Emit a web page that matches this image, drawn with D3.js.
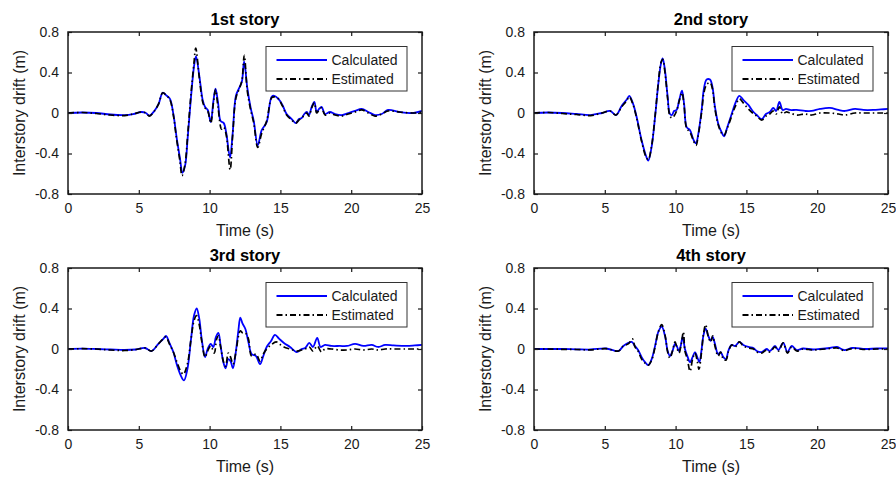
<!DOCTYPE html>
<html>
<head>
<meta charset="utf-8">
<script src="https://cdn.jsdelivr.net/npm/d3@7"></script>
<style>
  body { margin: 0; background: #fff; }
  svg { font-family: "Liberation Sans", Arial, sans-serif; }
</style>
</head>
<body>
<svg id="chart" width="896" height="480"></svg>
<script>
// ---- data: [time (s), drift (m)] ----
const xTicks = [0, 5, 10, 15, 20, 25];
const yTicks = [-0.8, -0.4, 0, 0.4, 0.8];
const yTickLabels = ["-0.8", "-0.4", "0", "0.4", "0.8"];
const titles = ["1st story", "2nd story", "3rd story", "4th story"];
const seriesNames = ["Calculated", "Estimated"];

const story1Calc = [[0,0],[1,0.005],[2,0],[3,-0.015],[4,-0.02],[4.6,-0.01],[5.2,0.01],[5.5,0],[5.75,-0.025],[6.1,0.02],[6.4,0.09],[6.69,0.2],[6.97,0.17],[7.2,0.14],[7.44,-0.01],[7.67,-0.24],[7.91,-0.45],[8.08,-0.59],[8.27,-0.52],[8.45,-0.25],[8.67,0.13],[8.9,0.46],[9.04,0.56],[9.28,0.36],[9.51,0.13],[9.68,0.06],[9.87,0.03],[10.08,-0.09],[10.27,0.12],[10.42,0.24],[10.6,0.1],[10.78,-0.08],[11.0,-0.1],[11.18,-0.2],[11.44,-0.44],[11.63,-0.2],[11.86,0.17],[12.1,0.25],[12.28,0.31],[12.44,0.51],[12.66,0.25],[12.9,0.05],[13.12,-0.08],[13.4,-0.32],[13.68,-0.17],[14.03,-0.09],[14.38,0.16],[14.57,0.17],[14.86,0.14],[15.14,0.08],[15.44,-0.01],[15.8,-0.06],[16.08,-0.1],[16.31,-0.06],[16.5,-0.05],[16.69,-0.01],[16.86,0.01],[17.02,-0.02],[17.21,0.06],[17.4,0.11],[17.56,0.01],[17.73,0.04],[17.91,0.06],[18.15,-0.01],[18.5,0.01],[18.86,-0.01],[19.33,-0.02],[19.8,0],[20.27,0.02],[20.74,0.04],[21.21,0.01],[21.68,-0.02],[22.15,-0.01],[22.6,0.03],[23.4,0.01],[24.4,0],[25,0.02]];
const story1Est = [[0,0],[1,0.005],[2,-0.005],[3,-0.02],[4,-0.025],[4.6,-0.01],[5.2,0.01],[5.5,0],[5.75,-0.03],[6.1,0.02],[6.4,0.09],[6.69,0.2],[6.97,0.17],[7.2,0.13],[7.44,-0.02],[7.67,-0.26],[7.91,-0.48],[8.05,-0.62],[8.27,-0.5],[8.45,-0.22],[8.67,0.16],[8.9,0.5],[9.02,0.64],[9.28,0.34],[9.51,0.11],[9.68,0.05],[9.87,0.02],[10.08,-0.1],[10.27,0.1],[10.42,0.23],[10.6,0.05],[10.85,-0.16],[11.0,-0.14],[11.18,-0.22],[11.45,-0.56],[11.63,-0.22],[11.86,0.15],[12.1,0.24],[12.28,0.32],[12.45,0.57],[12.66,0.22],[12.9,0.03],[13.12,-0.1],[13.4,-0.34],[13.68,-0.2],[14.03,-0.08],[14.38,0.15],[14.57,0.16],[14.86,0.14],[15.14,0.07],[15.44,-0.02],[15.8,-0.07],[16.08,-0.1],[16.31,-0.07],[16.5,-0.05],[16.69,-0.02],[16.86,0],[17.02,-0.03],[17.21,0.05],[17.4,0.1],[17.56,0],[17.73,0.03],[17.91,0.05],[18.15,-0.02],[18.5,0],[18.86,-0.02],[19.33,-0.03],[19.8,-0.01],[20.27,0.01],[20.74,0.03],[21.21,0],[21.68,-0.03],[22.15,-0.01],[22.6,0.02],[23.4,0.01],[24.4,0],[25,0.01]];

const story2Calc = [[0,0],[1,0.005],[2,0],[3,-0.01],[4,-0.02],[4.8,0],[5.37,0.02],[5.79,-0.02],[6.19,0.07],[6.54,0.13],[6.73,0.17],[7.0,0.09],[7.25,-0.04],[7.6,-0.27],[7.9,-0.42],[8.07,-0.47],[8.3,-0.34],[8.55,-0.04],[8.78,0.29],[8.97,0.49],[9.09,0.54],[9.25,0.42],[9.44,0.16],[9.6,-0.01],[9.75,-0.02],[9.89,0.02],[10.07,0.03],[10.26,0.13],[10.45,0.22],[10.6,0.09],[10.78,-0.14],[11.02,-0.17],[11.25,-0.26],[11.44,-0.3],[11.6,-0.21],[11.84,0.03],[12.0,0.24],[12.19,0.33],[12.43,0.33],[12.6,0.26],[12.78,0.06],[13.02,-0.11],[13.25,-0.19],[13.42,-0.23],[13.65,-0.14],[13.96,-0.01],[14.2,0.09],[14.5,0.17],[14.78,0.13],[15.14,0.08],[15.44,0.02],[15.73,-0.02],[16.08,-0.06],[16.38,-0.01],[16.65,0.01],[16.9,0.05],[17.1,0.02],[17.33,0.11],[17.56,0.03],[17.8,0.04],[18.08,0.03],[18.55,0.03],[19.14,0.02],[19.6,0.02],[20.2,0.04],[20.9,0.05],[21.5,0.03],[21.96,0.02],[22.67,0.04],[23.26,0.03],[23.96,0.03],[24.5,0.035],[25,0.04]];
const story2Est = [[0,0],[1,0.005],[2,-0.005],[3,-0.015],[4,-0.025],[4.8,0],[5.37,0.02],[5.79,-0.02],[6.19,0.06],[6.54,0.12],[6.73,0.16],[7.0,0.08],[7.25,-0.05],[7.6,-0.28],[7.9,-0.43],[8.07,-0.46],[8.3,-0.33],[8.55,-0.03],[8.78,0.3],[8.97,0.5],[9.09,0.53],[9.25,0.4],[9.44,0.14],[9.6,-0.03],[9.75,-0.05],[9.89,-0.03],[10.07,0.02],[10.26,0.12],[10.45,0.2],[10.6,0.07],[10.78,-0.15],[11.02,-0.19],[11.25,-0.27],[11.44,-0.32],[11.6,-0.22],[11.84,0.01],[12.0,0.2],[12.19,0.28],[12.43,0.3],[12.6,0.24],[12.78,0.04],[13.02,-0.12],[13.25,-0.2],[13.42,-0.22],[13.65,-0.15],[13.96,-0.03],[14.2,0.06],[14.5,0.14],[14.78,0.1],[15.14,0.04],[15.44,0],[15.73,-0.03],[16.08,-0.07],[16.38,-0.03],[16.65,-0.01],[16.9,0.02],[17.1,-0.01],[17.33,0.06],[17.56,-0.01],[17.8,0.01],[18.08,0],[18.55,-0.02],[19.14,-0.01],[19.6,-0.02],[20.2,0],[20.9,0],[21.5,-0.01],[21.96,-0.02],[22.67,0],[23.26,0],[23.96,0],[24.5,0],[25,0]];

const story3Calc = [[0,0],[1,0.003],[2,0],[3,-0.005],[4,-0.01],[4.8,-0.005],[5.44,0.01],[5.9,-0.02],[6.38,0.05],[6.73,0.1],[6.92,0.13],[7.16,0.06],[7.44,-0.03],[7.72,-0.17],[7.96,-0.26],[8.19,-0.31],[8.43,-0.2],[8.69,0.1],[8.9,0.33],[9.09,0.4],[9.27,0.3],[9.44,0.1],[9.68,-0.08],[9.86,0],[10.08,0.05],[10.26,0.02],[10.45,0.12],[10.62,0.16],[10.78,0.03],[10.97,-0.13],[11.13,-0.19],[11.32,-0.1],[11.48,-0.12],[11.65,-0.19],[11.86,-0.02],[12.03,0.18],[12.17,0.31],[12.33,0.25],[12.52,0.2],[12.74,0.07],[12.97,-0.05],[13.28,-0.07],[13.56,-0.15],[13.79,-0.07],[14.03,0.02],[14.34,0.08],[14.62,0.14],[14.92,0.1],[15.25,0.06],[15.68,0.02],[16.15,-0.03],[16.5,0],[16.75,0.01],[17.04,0.06],[17.3,0.02],[17.6,0.11],[17.84,0.02],[18.15,0.04],[18.6,0.03],[19.2,0.03],[19.7,0.03],[20.27,0.05],[20.86,0.03],[21.45,0.04],[21.9,0.02],[22.4,0.04],[23.0,0.035],[23.9,0.03],[24.5,0.035],[25,0.04]];
const story3Est = [[0,0],[1,0.003],[2,0],[3,-0.01],[4,-0.015],[4.8,-0.005],[5.44,0.01],[5.9,-0.02],[6.38,0.05],[6.73,0.1],[6.92,0.12],[7.16,0.05],[7.44,-0.03],[7.72,-0.14],[7.96,-0.22],[8.15,-0.25],[8.43,-0.15],[8.69,0.1],[8.9,0.28],[9.07,0.33],[9.27,0.24],[9.44,0.08],[9.68,-0.08],[9.86,-0.02],[10.08,0.03],[10.33,-0.04],[10.5,0.1],[10.62,0.13],[10.78,0.02],[10.97,-0.12],[11.13,-0.17],[11.32,-0.04],[11.48,-0.08],[11.65,-0.15],[11.86,-0.03],[12.03,0.12],[12.17,0.18],[12.33,0.16],[12.52,0.16],[12.74,0.1],[12.97,-0.07],[13.28,-0.05],[13.56,-0.12],[13.79,-0.05],[14.03,0],[14.34,0.04],[14.7,0.07],[14.92,0.05],[15.25,0.02],[15.68,0],[16.15,-0.02],[16.5,-0.01],[16.75,0],[17.04,0.02],[17.3,-0.02],[17.6,0.03],[17.9,-0.03],[18.15,0],[18.6,0],[19.2,-0.01],[19.7,-0.01],[20.27,0],[20.86,-0.01],[21.45,0],[21.9,-0.01],[22.4,0],[23.0,0],[23.9,0],[24.5,0],[25,0]];

const story4Calc = [[0,0],[1,0],[2,0],[3,-0.003],[4,-0.005],[5.1,0.005],[5.96,-0.02],[6.31,0.03],[6.66,0.06],[6.9,0.07],[7.13,0.03],[7.35,-0.01],[7.6,-0.08],[7.84,-0.13],[8.07,-0.16],[8.31,-0.1],[8.55,0.03],[8.78,0.17],[9.02,0.22],[9.25,0.13],[9.44,-0.02],[9.6,-0.07],[9.78,-0.02],[9.96,0.05],[10.08,0.03],[10.24,-0.02],[10.36,0.03],[10.5,0.12],[10.66,0],[10.83,-0.07],[11.02,-0.13],[11.2,-0.08],[11.37,-0.03],[11.53,-0.08],[11.68,-0.13],[11.84,0],[11.96,0.13],[12.12,0.2],[12.31,0.13],[12.48,0.08],[12.62,0.12],[12.78,0.05],[13.0,-0.05],[13.18,-0.03],[13.37,-0.08],[13.56,-0.1],[13.72,-0.02],[13.96,0.04],[14.2,0.03],[14.5,0.07],[14.78,0.04],[15.14,0.02],[15.5,0.01],[15.73,-0.02],[16.08,-0.03],[16.43,0],[16.66,-0.02],[17.02,0.03],[17.26,-0.01],[17.6,0.06],[17.9,-0.03],[18.2,0.03],[18.55,-0.01],[19.0,0.005],[19.7,-0.005],[20.2,0],[20.9,0.01],[21.4,0.02],[21.9,-0.01],[22.5,0.01],[23.4,0],[24.2,0.005],[25,0.005]];
const story4Est = [[0,0],[1,0],[2,-0.003],[3,-0.005],[4,-0.008],[5.1,0.003],[5.96,-0.02],[6.31,0.03],[6.66,0.05],[6.95,0.1],[7.13,0.02],[7.35,-0.02],[7.6,-0.1],[7.84,-0.14],[8.07,-0.16],[8.31,-0.11],[8.55,0.02],[8.78,0.17],[9.02,0.24],[9.25,0.14],[9.44,-0.03],[9.6,-0.09],[9.78,-0.02],[9.96,0.07],[10.08,0.02],[10.24,-0.04],[10.4,0.05],[10.55,0.17],[10.66,-0.02],[10.83,-0.1],[11.02,-0.22],[11.2,-0.1],[11.37,-0.04],[11.53,-0.12],[11.65,-0.2],[11.84,-0.02],[11.96,0.14],[12.12,0.24],[12.31,0.12],[12.48,0.07],[12.62,0.13],[12.78,0.03],[13.0,-0.07],[13.18,-0.03],[13.37,-0.1],[13.56,-0.11],[13.72,-0.03],[13.96,0.04],[14.2,0.02],[14.5,0.07],[14.78,0.03],[15.14,0.01],[15.5,0],[15.73,-0.03],[16.08,-0.04],[16.43,-0.01],[16.66,-0.03],[17.02,0.02],[17.26,-0.02],[17.6,0.06],[17.9,-0.04],[18.2,0.02],[18.55,-0.02],[19.0,0],[19.7,-0.01],[20.2,-0.005],[20.9,0.005],[21.4,0.01],[21.9,-0.015],[22.5,0.005],[23.4,-0.005],[24.2,0],[25,0]];

const calcSeries = [story1Calc, story2Calc, story3Calc, story4Calc];
const estSeries = [story1Est, story2Est, story3Est, story4Est];

// ---- layout ----
const panelLefts = [68, 534];
const panelTops = [32, 268];
const plotW = 354;
const plotH = 162;
const axisColor = "#1a1a1a";
const estDash = "6,3,1.5,3";

const svg = d3.select("#chart");
const defs = svg.append("defs");

titles.forEach((title, i) => {
  const col = i % 2;
  const row = Math.floor(i / 2);
  const left = panelLefts[col];
  const top = panelTops[row];

  const x = d3.scaleLinear().domain([0, 25]).range([0, plotW]);
  const y = d3.scaleLinear().domain([-0.8, 0.8]).range([plotH, 0]);

  const g = svg.append("g").attr("transform", `translate(${left},${top})`);

  defs.append("clipPath").attr("id", "clip" + i)
    .append("rect").attr("width", plotW).attr("height", plotH);

  const line = d3.line()
    .x((d) => x(d[0]))
    .y((d) => y(d[1]))
    .curve(d3.curveCatmullRom.alpha(0.5));

  // calculated first, estimated drawn on top
  const lines = g.append("g").attr("clip-path", `url(#clip${i})`);
  lines.append("path")
    .attr("d", line(calcSeries[i]))
    .attr("fill", "none")
    .attr("stroke", "#0000ff")
    .attr("stroke-width", 1.8);
  lines.append("path")
    .attr("d", line(estSeries[i]))
    .attr("fill", "none")
    .attr("stroke", "#000")
    .attr("stroke-width", 1.7)
    .attr("stroke-dasharray", estDash);

  // axes: ticks inside on all four sides
  const tickLen = 4;
  g.append("g")
    .attr("transform", `translate(0,${plotH})`)
    .call(d3.axisBottom(x).tickValues(xTicks).tickSize(-tickLen).tickPadding(9).tickFormat(d3.format("d")))
    .call((a) => a.select(".domain").remove());
  g.append("g")
    .call(d3.axisTop(x).tickValues(xTicks).tickSize(-tickLen).tickFormat(""))
    .call((a) => a.select(".domain").remove());
  g.append("g")
    .call(d3.axisLeft(y).tickValues(yTicks).tickSize(-tickLen).tickPadding(9)
      .tickFormat((d, k) => yTickLabels[k]))
    .call((a) => a.select(".domain").remove());
  g.append("g")
    .attr("transform", `translate(${plotW},0)`)
    .call(d3.axisRight(y).tickValues(yTicks).tickSize(-tickLen).tickFormat(""))
    .call((a) => a.select(".domain").remove());

  g.selectAll(".tick line").attr("stroke", axisColor).attr("stroke-width", 1.2);
  g.selectAll(".tick text")
    .attr("fill", axisColor)
    .style("font-size", "14px")
    .style("font-family", "'Liberation Sans', Arial, sans-serif");

  g.append("rect")
    .attr("width", plotW)
    .attr("height", plotH)
    .attr("fill", "none")
    .attr("stroke", axisColor)
    .attr("stroke-width", 1.5);

  // title and labels
  g.append("text")
    .attr("x", plotW / 2)
    .attr("y", -7)
    .attr("text-anchor", "middle")
    .attr("font-weight", "bold")
    .attr("font-size", 16.5)
    .text(title);
  g.append("text")
    .attr("x", plotW / 2)
    .attr("y", plotH + 42)
    .attr("text-anchor", "middle")
    .attr("font-size", 16)
    .attr("fill", axisColor)
    .text("Time (s)");
  g.append("text")
    .attr("transform", `translate(-43,${plotH / 2}) rotate(-90)`)
    .attr("text-anchor", "middle")
    .attr("font-size", 16)
    .attr("fill", axisColor)
    .text("Interstory drift (m)");

  // legend
  const lg = g.append("g").attr("transform", "translate(198,14.5)");
  lg.append("rect")
    .attr("width", 141)
    .attr("height", 44.5)
    .attr("fill", "#fff")
    .attr("stroke", "#333")
    .attr("stroke-width", 1);
  seriesNames.forEach((name, k) => {
    const cy = 13.5 + k * 19;
    lg.append("line")
      .attr("x1", 10.5).attr("x2", 61)
      .attr("y1", cy).attr("y2", cy)
      .attr("stroke", k === 0 ? "#0000ff" : "#000")
      .attr("stroke-width", 1.8)
      .attr("stroke-dasharray", k === 0 ? null : estDash);
    lg.append("text")
      .attr("x", 65.5)
      .attr("y", cy)
      .attr("dy", "0.35em")
      .attr("font-size", 14)
      .attr("fill", axisColor)
      .text(name);
  });
});
</script>
</body>
</html>
